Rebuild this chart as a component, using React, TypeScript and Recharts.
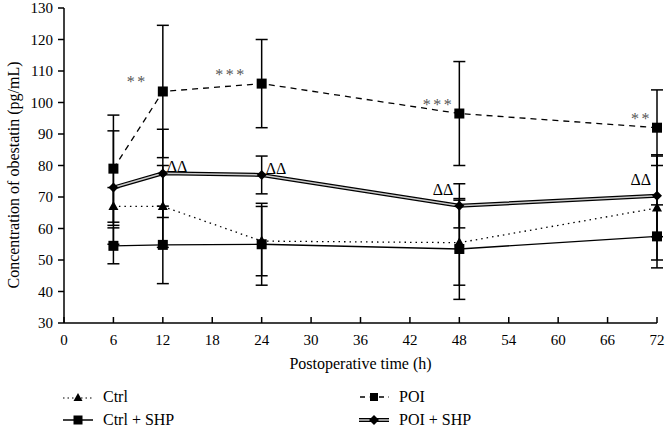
import React from 'react';
import { LineChart, Line, XAxis, YAxis, ErrorBar, LabelList } from 'recharts';

const FONT = '"Liberation Serif", "Times New Roman", serif';

const hours = [6, 12, 24, 48, 72];
const xTicks = [0, 6, 12, 18, 24, 30, 36, 42, 48, 54, 60, 66, 72];
const yTicks = [30, 40, 50, 60, 70, 80, 90, 100, 110, 120, 130];

const ctrl = [67, 67, 56, 55.5, 66.5];
const ctrlSd = [6, 13, 11, 13.5, 16.5];
const ctrlShp = [54.5, 54.8, 55, 53.5, 57.5];
const ctrlShpSd = [5.7, 12.3, 13, 16, 10];
const poi = [79, 103.5, 106, 96.5, 92];
const poiSd = [17, 21, 14, 16.5, 12];
const poiShp = [73, 77.5, 77, 67.2, 70.4];
const poiShpSd = [18, 14, 6, 7, 13];

const poiMarks = ['', '**', '***', '***', '**'];
const shpMarks = ['', 'ΔΔ', 'ΔΔ', 'ΔΔ', 'ΔΔ'];

const data = hours.map((h, i) => ({
  hour: h,
  ctrl: ctrl[i],
  ctrlErr: ctrlSd[i],
  ctrlShp: ctrlShp[i],
  ctrlShpErr: ctrlShpSd[i],
  poi: poi[i],
  poiErr: poiSd[i],
  poiShp: poiShp[i],
  poiShpErr: poiShpSd[i],
  poiMark: poiMarks[i],
  shpMark: shpMarks[i],
}));

const Triangle = (props: any) => {
  const { cx, cy } = props;
  if (cx == null || cy == null) return null;
  return <path d={`M${cx},${cy - 5.5} L${cx + 5},${cy + 3.5} L${cx - 5},${cy + 3.5} Z`} fill="#000" />;
};

const Square = (props: any) => {
  const { cx, cy } = props;
  if (cx == null || cy == null) return null;
  return <rect x={cx - 5} y={cy - 5} width={10} height={10} fill="#000" />;
};

const Diamond = (props: any) => {
  const { cx, cy } = props;
  if (cx == null || cy == null) return null;
  return <path d={`M${cx},${cy - 5} L${cx + 5},${cy} L${cx},${cy + 5} L${cx - 5},${cy} Z`} fill="#000" />;
};

const StarLabel = (props: any) => {
  const { x, y, value, index } = props;
  if (!value) return null;
  const dx = index < 3 ? -15 : -5;
  return (
    <text x={x + dx} y={y - 4} textAnchor="end" fontSize={16} fill="#555" fontFamily={FONT} letterSpacing={2.5}>
      {value}
    </text>
  );
};

const DeltaLabel = (props: any) => {
  const { x, y, value, index } = props;
  if (!value) return null;
  const right = index < 3;
  return (
    <text
      x={right ? x + 4 : x - 6}
      y={right ? y - 1 : y - 11}
      textAnchor={right ? 'start' : 'end'}
      fontSize={16}
      fill="#000"
      fontFamily={FONT}
    >
      {value}
    </text>
  );
};

const XTitle = (props: any) => {
  const vb = props.viewBox || { x: 64, width: 593 };
  return (
    <text x={vb.x + vb.width / 2} y={369} textAnchor="middle" fontSize={16} fill="#000" fontFamily={FONT}>
      Postoperative time (h)
    </text>
  );
};

const YTitle = () => (
  <text transform="translate(19, 175) rotate(-90)" textAnchor="middle" fontSize={16} fill="#000" fontFamily={FONT}>
    Concentration of obestatin (pg/mL)
  </text>
);

const LegendIcon = ({ kind }: { kind: string }) => {
  if (kind === 'ctrl') {
    return (
      <svg width={30} height={12}>
        <line x1={0} y1={7} x2={30} y2={7} stroke="#000" strokeWidth={1.2} strokeDasharray="1.5 3" />
        <path d="M15,2 L19.5,10 L10.5,10 Z" fill="#000" />
      </svg>
    );
  }
  if (kind === 'ctrlShp') {
    return (
      <svg width={30} height={12}>
        <line x1={0} y1={6} x2={30} y2={6} stroke="#000" strokeWidth={1.5} />
        <rect x={10.5} y={1.5} width={9} height={9} fill="#000" />
      </svg>
    );
  }
  if (kind === 'poi') {
    return (
      <svg width={30} height={12}>
        <line x1={0} y1={6} x2={30} y2={6} stroke="#000" strokeWidth={1.5} strokeDasharray="5 4.5" strokeDashoffset={-1} />
        <rect x={10.5} y={1.5} width={9} height={9} fill="#fff" />
        <rect x={11} y={2} width={8} height={8} fill="#000" />
      </svg>
    );
  }
  return (
    <svg width={30} height={12}>
      <line x1={0} y1={6} x2={30} y2={6} stroke="#000" strokeWidth={4} />
      <line x1={0} y1={6} x2={30} y2={6} stroke="#ccc" strokeWidth={1.5} />
      <path d="M15,1 L20,6 L15,11 L10,6 Z" fill="#000" />
    </svg>
  );
};

const legendItems = [
  { kind: 'ctrl', name: 'Ctrl', left: 63, top: 388 },
  { kind: 'poi', name: 'POI', left: 359, top: 388 },
  { kind: 'ctrlShp', name: 'Ctrl + SHP', left: 63, top: 411 },
  { kind: 'poiShp', name: 'POI + SHP', left: 359, top: 411 },
];

export default function App() {
  return (
    <div style={{ position: 'absolute', left: 0, top: 0, width: 665, height: 430, background: '#fff' }}>
      <LineChart width={665} height={430} data={data} margin={{ top: 8, right: 8, bottom: 0, left: 0 }}>
        <XAxis
          dataKey="hour"
          type="number"
          domain={[0, 72]}
          ticks={xTicks}
          interval={0}
          stroke="#000"
          strokeWidth={1.5}
          tickSize={-6}
          tickMargin={17}
          height={107}
          tick={{ fontSize: 15, fill: '#000', fontFamily: FONT }}
          label={<XTitle />}
        />
        <YAxis
          type="number"
          domain={[30, 130]}
          ticks={yTicks}
          interval={0}
          stroke="#000"
          strokeWidth={1.5}
          tickSize={6}
          tickMargin={5}
          width={64}
          tick={{ fontSize: 15, fill: '#000', fontFamily: FONT }}
          label={<YTitle />}
        />
        <Line
          dataKey="poi"
          stroke="#000"
          strokeWidth={1.3}
          strokeDasharray="6 5"
          dot={<Square />}
          activeDot={false}
          isAnimationActive={false}
        >
          <ErrorBar dataKey="poiErr" width={6} stroke="#000" strokeWidth={1.5} direction="y" />
          <LabelList dataKey="poiMark" content={<StarLabel />} />
        </Line>
        <Line
          dataKey="ctrl"
          stroke="#000"
          strokeWidth={1.3}
          strokeDasharray="1.5 4"
          dot={<Triangle />}
          activeDot={false}
          isAnimationActive={false}
        >
          <ErrorBar dataKey="ctrlErr" width={6} stroke="#000" strokeWidth={1.5} direction="y" />
        </Line>
        <Line
          dataKey="ctrlShp"
          stroke="#000"
          strokeWidth={1.3}
          dot={<Square />}
          activeDot={false}
          isAnimationActive={false}
        >
          <ErrorBar dataKey="ctrlShpErr" width={6} stroke="#000" strokeWidth={1.5} direction="y" />
        </Line>
        <Line
          dataKey="poiShp"
          stroke="#000"
          strokeWidth={4}
          dot={false}
          activeDot={false}
          isAnimationActive={false}
        />
        <Line
          dataKey="poiShp"
          stroke="#c8c8c8"
          strokeWidth={1.5}
          dot={<Diamond />}
          activeDot={false}
          isAnimationActive={false}
        >
          <ErrorBar dataKey="poiShpErr" width={6} stroke="#000" strokeWidth={1.5} direction="y" />
          <LabelList dataKey="shpMark" content={<DeltaLabel />} />
        </Line>
      </LineChart>
      {legendItems.map((it) => (
        <div
          key={it.name}
          style={{
            position: 'absolute',
            left: it.left,
            top: it.top,
            display: 'flex',
            alignItems: 'center',
            fontFamily: FONT,
            fontSize: 16,
            lineHeight: '18px',
            color: '#000',
          }}
        >
          <LegendIcon kind={it.kind} />
          <span style={{ marginLeft: 10 }}>{it.name}</span>
        </div>
      ))}
    </div>
  );
}
